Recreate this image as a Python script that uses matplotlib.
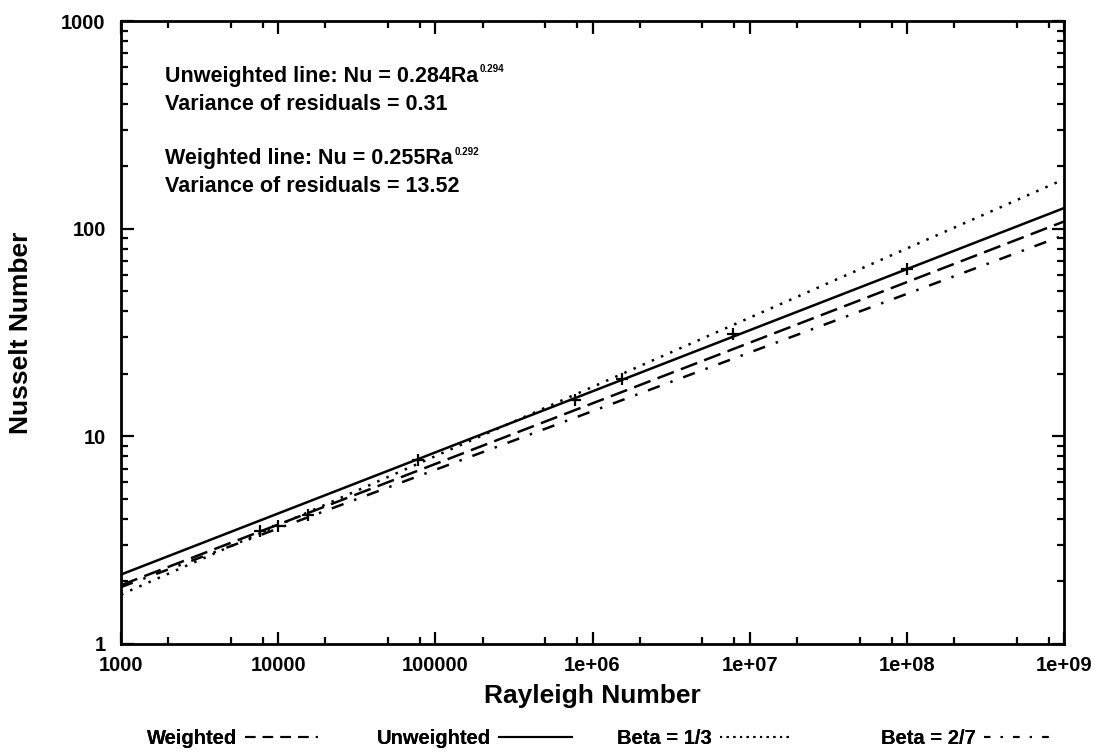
import matplotlib
matplotlib.use("Agg")
import matplotlib.pyplot as plt
from matplotlib.ticker import LogLocator, NullFormatter
from matplotlib.lines import Line2D

# ---- data ----
ra_ends = [1e3, 1e9]
nu_unweighted = [2.16, 125.7]
nu_weighted = [1.92, 108.3]
nu_beta13 = [1.73, 173.0]
nu_beta27 = [1.88, 93.0]

ra_points = [7.7e3, 1.0e4, 1.55e4, 7.75e4, 7.75e5, 1.55e6, 7.8e6, 1.0e8]
nu_points = [3.5, 3.7, 4.2, 7.7, 15.0, 18.9, 31.1, 63.9]

xtick_vals = [1e3, 1e4, 1e5, 1e6, 1e7, 1e8, 1e9]
xtick_labels = ["1000", "10000", "100000", "1e+06", "1e+07", "1e+08", "1e+09"]
ytick_vals = [1, 10, 100, 1000]
ytick_labels = ["1", "10", "100", "1000"]

legend_labels = ["Weighted", "Unweighted", "Beta = 1/3", "Beta = 2/7"]
fit_lines = [
    ("Unweighted line: Nu = 0.284Ra", "0.294", "Variance of residuals = 0.31"),
    ("Weighted line: Nu = 0.255Ra", "0.292", "Variance of residuals = 13.52"),
]

FONT = ["Liberation Sans", "DejaVu Sans"]
plt.rcParams["font.family"] = FONT
plt.rcParams["font.weight"] = "bold"

fig = plt.figure(figsize=(10.99, 7.54), dpi=100)
ax = fig.add_axes([0.1101, 0.1459, 0.9682 - 0.1101, 0.9721 - 0.1459])

lw = 1.8
dash_style = (0, (7, 3))
dot_style = (0, (1.0, 3.0))
dashdot_style = (0, (5, 4.5, 1, 4.5))

ax.plot(ra_ends, nu_weighted, color="black", lw=lw, linestyle=dash_style)
ax.plot(ra_ends, nu_unweighted, color="black", lw=lw, linestyle="-")
ax.plot(ra_ends, nu_beta13, color="black", lw=lw, linestyle=dot_style)
ax.plot(ra_ends, nu_beta27, color="black", lw=lw, linestyle=dashdot_style)
ax.plot(ra_points, nu_points, linestyle="none", marker="+", color="black",
        ms=9, mew=1.6)

ax.set_xscale("log")
ax.set_yscale("log")
ax.set_xlim(1e3, 1e9)
ax.set_ylim(1, 1000)

ax.set_xticks(xtick_vals, xtick_labels)
ax.set_yticks(ytick_vals, ytick_labels)
ax.xaxis.set_minor_locator(LogLocator(base=10, subs=(2.0, 5.0, 8.0), numticks=20))
ax.yaxis.set_minor_locator(LogLocator(base=10, subs=tuple(range(2, 10)), numticks=20))
ax.xaxis.set_minor_formatter(NullFormatter())
ax.yaxis.set_minor_formatter(NullFormatter())

ax.tick_params(which="both", direction="in", top=True, right=True, width=1.6,
               labelsize=14.5)
ax.tick_params(axis="x", which="major", pad=9)
ax.tick_params(axis="y", which="major", pad=11)
ax.tick_params(which="major", length=9)
ax.tick_params(which="minor", length=5)
for lab in ax.get_xticklabels() + ax.get_yticklabels():
    lab.set_fontweight("bold")
for sp in ax.spines.values():
    sp.set_linewidth(2.0)

ax.set_xlabel("Rayleigh Number", fontsize=19, fontweight="bold", labelpad=6)
ax.set_ylabel("Nusselt Number", fontsize=19, fontweight="bold", labelpad=20)

# annotation block
y_starts = [0.902, 0.770]
for (main, sup, var), y0 in zip(fit_lines, y_starts):
    t = ax.text(0.047, y0, main, transform=ax.transAxes, fontsize=15.5,
                fontweight="bold", va="baseline", ha="left")
    ax.annotate(sup, xy=(1, 1), xycoords=t, xytext=(1, -6),
                textcoords="offset points", fontsize=7, fontweight="bold",
                va="bottom", ha="left")
    ax.text(0.047, y0 - 0.045, var, transform=ax.transAxes, fontsize=15.5,
            fontweight="bold", va="baseline", ha="left")

# legend: four entries along the bottom, label first (short key samples)
handles = [
    Line2D([], [], color="black", lw=1.5, linestyle=(0, (5, 3.5))),
    Line2D([], [], color="black", lw=1.5, linestyle="-"),
    Line2D([], [], color="black", lw=1.5, linestyle=(0, (1, 2.2))),
    Line2D([], [], color="black", lw=1.5, linestyle=(0, (3, 5, 1, 5))),
]
x_pos = [0.1174, 0.3267, 0.545, 0.785]
for h, lab, xp in zip(handles, legend_labels, x_pos):
    leg = fig.legend([h], [lab], loc="center left", bbox_to_anchor=(xp, 0.021),
                     frameon=False, markerfirst=False, handlelength=3.6,
                     handletextpad=0.4, prop={"size": 14.5, "weight": "bold"})
    fig.add_artist(leg)

fig.savefig("out.png", dpi=100)
